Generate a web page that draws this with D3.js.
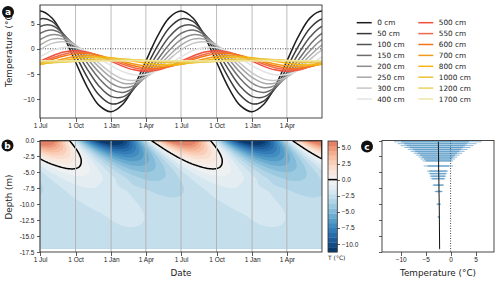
<!DOCTYPE html>
<html lang="en">
<head>
<meta charset="utf-8">
<title>Ground temperature with depth</title>
<script src="https://cdn.jsdelivr.net/npm/d3@7"></script>
<style>
  body { margin: 0; background: #fff; }
  svg { font-family: "DejaVu Sans", sans-serif; }
  .axis path, .axis line { stroke: #333; stroke-width: 0.8; shape-rendering: crispEdges; }
  .axis text { font-size: 6.5px; fill: #222; }
  .lab { font-size: 8.8px; fill: #222; }
</style>
</head>
<body>
<script>

// depths of the temperature series (cm) and their colours
var depthsCm = [0, 50, 100, 150, 200, 250, 300, 400, 500, 550, 600, 700, 800, 1000, 1200, 1700];
var seriesColors = ["#1c1c1c", "#383838", "#535353", "#6d6d6d", "#8c8c8c", "#a8a8a8", "#c6c6c6", "#e3e3e3",
                    "#f0503c", "#f26848", "#f3751a", "#f29a1c", "#f4b50c", "#e9c235", "#ecd35c", "#efe6a6"];

// temperature (°C) on the 1st of each month, Jul .. Jun, one row per depth (same cycle every year)
var monthTemps = [
  [7.50, 6.11, 2.33, -2.63, -7.70, -11.24, -12.50, -10.97, -7.55, -2.46, 2.48, 6.20],
  [5.93, 5.45, 2.75, -1.25, -5.72, -9.20, -10.94, -10.34, -7.90, -3.80, 0.53, 4.17],
  [4.44, 4.63, 2.84, -0.30, -4.14, -7.42, -9.45, -9.55, -7.93, -4.72, -1.01, 2.42],
  [3.05, 3.73, 2.69, 0.31, -2.90, -5.90, -8.06, -8.66, -7.72, -5.30, -2.20, 0.92],
  [1.81, 2.81, 2.35, 0.63, -1.99, -4.66, -6.81, -7.74, -7.33, -5.59, -3.06, -0.30],
  [0.72, 1.92, 1.90, 0.73, -1.34, -3.65, -5.70, -6.85, -6.83, -5.66, -3.67, -1.28],
  [-0.21, 1.08, 1.38, 0.67, -0.93, -2.88, -4.77, -6.02, -6.29, -5.58, -4.06, -2.06],
  [-1.61, -0.36, 0.31, 0.23, -0.58, -1.86, -3.34, -4.57, -5.18, -5.12, -4.35, -3.04],
  [-2.46, -1.42, -0.65, -0.38, -0.66, -1.40, -2.45, -3.49, -4.18, -4.48, -4.22, -3.47],
  [-2.73, -1.82, -1.07, -0.71, -0.81, -1.33, -2.17, -3.08, -3.76, -4.14, -4.07, -3.54],
  [-2.91, -2.12, -1.42, -1.01, -0.96, -1.31, -1.97, -2.75, -3.39, -3.83, -3.88, -3.54],
  [-3.08, -2.55, -1.98, -1.55, -1.34, -1.52, -1.95, -2.51, -3.00, -3.38, -3.50, -3.32],
  [-3.06, -2.74, -2.33, -1.95, -1.69, -1.62, -1.77, -2.10, -2.47, -2.86, -3.12, -3.20],
  [-2.82, -2.77, -2.61, -2.41, -2.19, -2.04, -1.98, -2.04, -2.18, -2.39, -2.60, -2.76],
  [-2.57, -2.62, -2.60, -2.53, -2.43, -2.32, -2.22, -2.18, -2.20, -2.26, -2.37, -2.48],
  [-2.37, -2.39, -2.42, -2.44, -2.44, -2.44, -2.43, -2.41, -2.38, -2.36, -2.36, -2.36]
];

var tickDates = ["2001-07-01", "2001-10-01", "2002-01-01", "2002-04-01",
                 "2002-07-01", "2002-10-01", "2003-01-01", "2003-04-01"].map(function(s) { return new Date(s + "T00:00:00Z"); });
var tempTicks = [5, 0, -5, -10];
var depthTicks = [0, -2.5, -5, -7.5, -10, -12.5, -15, -17.5];
var cbarTicks = [5, 2.5, 0, -2.5, -5, -7.5, -10];
var profTicks = [-10, -5, 0, 5];

// panel c: range of temperature at each sensor depth (m)
var profDepth = [0.2, 0.5, 0.8, 1.1, 1.4, 1.7, 2.0, 2.3, 2.6, 2.9, 3.2, 4.0, 4.8, 5.2, 5.6, 6.0, 7.0, 8.0, 10.0, 12.0, 17.0];
var profMin  = [-11.3, -10.6, -10.0, -9.3, -8.6, -8.0, -7.4, -6.9, -6.4, -6.0, -5.6, -5.4, -4.7, -4.4, -4.2, -4.0, -3.6, -3.2, -2.85, -2.6, -2.3];
var profMax  = [6.2, 5.2, 4.6, 4.0, 3.4, 2.8, 2.3, 1.8, 1.3, 0.9, 0.5, 0.5, -0.5, -0.7, -0.9, -1.1, -1.3, -1.6, -1.95, -2.15, -2.1];
var profLo   = [-9.9, -9.3, -8.8, -8.2, -7.6, -7.1, -6.6, -6.1, -5.7, -5.3, -5.0, -4.6, -4.3, -4.1, -3.9, -3.7, -3.4, -3.0, -2.7, -2.55, -2.25];
var profHi   = [3.7, 3.3, 2.9, 2.5, 2.1, 1.7, 1.3, 0.9, 0.6, 0.3, 0.0, -0.3, -0.8, -1.0, -1.1, -1.3, -1.5, -1.8, -2.05, -2.2, -2.15];
var profMean = [-2.45, -2.45, -2.44, -2.44, -2.43, -2.43, -2.42, -2.42, -2.41, -2.41, -2.4, -2.4, -2.39, -2.38, -2.37, -2.36, -2.34, -2.32, -2.28, -2.25, -2.2];

var svg = d3.select("body").append("svg").attr("width", 500).attr("height", 284);

var t0 = new Date(Date.UTC(2001, 6, 1)), t1 = new Date(Date.UTC(2003, 6, 1));
var depthsM = depthsCm.map(function(d) { return d / 100; });
var monthDay = d3.range(12).map(function(k) { return (Date.UTC(2001, 6 + k, 1) - Date.UTC(2001, 6, 1)) / 864e5; });

// ---------- panel a ----------
var xA = d3.scaleUtc().domain([t0, t1]).range([40, 322]);
var yA = d3.scaleLinear().domain([-13.75, 8.7]).range([118, 5]);

svg.append("clipPath").attr("id", "clipA").append("rect")
   .attr("x", 40).attr("y", 5).attr("width", 282).attr("height", 113);

svg.append("g").selectAll("line").data(tickDates).join("line")
   .attr("x1", function(d) { return xA(d); }).attr("x2", function(d) { return xA(d); })
   .attr("y1", 5).attr("y2", 118).attr("stroke", "#bdbdbd").attr("stroke-width", 1);

svg.append("line").attr("x1", 40).attr("x2", 322).attr("y1", yA(0)).attr("y2", yA(0))
   .attr("stroke", "#333").attr("stroke-width", 0.9).attr("stroke-dasharray", "1,1.5");

var lineA = d3.line()
  .x(function(d) { return xA(d.date); })
  .y(function(d) { return yA(d.v); })
  .curve(d3.curveCatmullRom.alpha(0.5));

var gA = svg.append("g").attr("clip-path", "url(#clipA)");
monthTemps.forEach(function(row, s) {
  var pts = [];
  for (var c = -1; c <= 2; c++) {
    for (var k = 0; k < 12; k++) {
      pts.push({ date: new Date(Date.UTC(2001 + c, 6 + k, 1)), v: row[k] });
    }
  }
  gA.append("path").datum(pts).attr("d", lineA)
    .attr("fill", "none").attr("stroke", seriesColors[s]).attr("stroke-width", 1.5);
});

svg.append("g").attr("class", "axis").attr("transform", "translate(0,118)")
   .call(d3.axisBottom(xA).tickValues(tickDates).tickFormat(d3.utcFormat("%-d %b")).tickSize(3.5).tickPadding(2))
   .select(".domain").remove();
svg.append("g").attr("class", "axis").attr("transform", "translate(40,0)")
   .call(d3.axisLeft(yA).tickValues(tempTicks).tickSize(3.5).tickPadding(2))
   .select(".domain").remove();
svg.append("rect").attr("x", 40).attr("y", 5).attr("width", 282).attr("height", 113)
   .attr("fill", "none").attr("stroke", "#333").attr("stroke-width", 0.9);

svg.append("text").attr("class", "lab").attr("transform", "translate(9,49) rotate(-90)")
   .attr("text-anchor", "middle").attr("dy", "0.35em").text("Temperature (°C)");

// legend
var leg = svg.append("g");
depthsCm.forEach(function(d, i) {
  var col = i < 8 ? 0 : 1, row = i % 8;
  var lx = col ? 418.3 : 356.7, ly = 22.7 + row * 10.9;
  leg.append("line").attr("x1", lx).attr("x2", lx + 15).attr("y1", ly).attr("y2", ly)
     .attr("stroke", seriesColors[i]).attr("stroke-width", 1.5);
  leg.append("text").attr("x", lx + 20.5).attr("y", ly).attr("dy", "0.35em")
     .attr("font-size", "7.3px").attr("fill", "#222").text(d + " cm");
});

// ---------- panel b ----------
var xB = xA.copy();
var yB = d3.scaleLinear().domain([0, -17.5]).range([140.5, 252]);
var step = 0.75;
var levels = d3.range(-11.25, 6.0001, step);
function colorOf(v) { return d3.interpolateRdBu(0.5 - v / 22.5); }

// periodic cubic through the monthly values
function cycleAt(row, day) {
  var n = 12, P = 365;
  var d = ((day % P) + P) % P;
  var k = d3.bisectRight(monthDay, d) - 1;
  function tAt(i) { return monthDay[((i % n) + n) % n] + Math.floor(i / n) * P; }
  function vAt(i) { return row[((i % n) + n) % n]; }
  var ta = tAt(k - 1), tb = tAt(k), tc = tAt(k + 1), td = tAt(k + 2);
  var pa = vAt(k - 1), pb = vAt(k), pc = vAt(k + 1), pd = vAt(k + 2);
  var h = tc - tb, s = (d - tb) / h;
  var m1 = (pc - pa) / (tc - ta), m2 = (pd - pb) / (td - tb);
  return (2*s*s*s - 3*s*s + 1) * pb + (s*s*s - 2*s*s + s) * h * m1 + (-2*s*s*s + 3*s*s) * pc + (s*s*s - s*s) * h * m2;
}
function profileAt(vals, z) {
  var n = depthsM.length;
  var j = Math.max(0, Math.min(d3.bisectRight(depthsM, z) - 1, n - 2));
  var za = depthsM[j], zb = depthsM[j + 1], h = zb - za, s = (z - za) / h;
  var m1 = j > 0 ? (vals[j + 1] - vals[j - 1]) / (zb - depthsM[j - 1]) : (vals[1] - vals[0]) / h;
  var m2 = j + 2 < n ? (vals[j + 2] - vals[j]) / (depthsM[j + 2] - za) : (vals[j + 1] - vals[j]) / h;
  return (2*s*s*s - 3*s*s + 1) * vals[j] + (s*s*s - 2*s*s + s) * h * m1 + (-2*s*s*s + 3*s*s) * vals[j + 1] + (s*s*s - s*s) * h * m2;
}

var nx = 282, ny = 109, zMax = 17, nDays = 730;
var grid = new Float64Array(nx * ny);
for (var i = 0; i < nx; i++) {
  var day = (i + 0.5) / nx * nDays;
  var col = monthTemps.map(function(row) { return cycleAt(row, day); });
  for (var j = 0; j < ny; j++) {
    grid[j * nx + i] = profileAt(col, (j + 0.5) / ny * zMax);
  }
}

var bx0 = xB.range()[0], by0 = yB(0);
var kx = (xB.range()[1] - bx0) / nx, ky = (yB(-zMax) - by0) / ny;
var pathB = d3.geoPath(d3.geoTransform({ point: function(x, y) { this.stream.point(bx0 + x * kx, by0 + y * ky); } }));

svg.append("clipPath").attr("id", "clipB").append("rect")
   .attr("x", 40).attr("y", 140.5).attr("width", 282).attr("height", 111.5);

var gB = svg.append("g").attr("clip-path", "url(#clipB)");
gB.append("rect").attr("x", bx0).attr("y", by0).attr("width", nx * kx).attr("height", ny * ky)
  .attr("fill", colorOf(levels[0] + step / 2));
var bands = d3.contours().size([nx, ny]).thresholds(levels.slice(1, levels.length - 1))(grid);
gB.selectAll("path.band").data(bands).join("path").attr("class", "band")
  .attr("d", pathB).attr("fill", function(d) { return colorOf(d.value + step / 2); });
var zero = d3.contours().size([nx, ny]).thresholds([0])(grid);
gB.selectAll("path.zero").data(zero).join("path").attr("class", "zero")
  .attr("d", pathB).attr("fill", "none").attr("stroke", "#000").attr("stroke-width", 1.5);

svg.append("g").selectAll("line").data(tickDates).join("line")
   .attr("x1", function(d) { return xB(d); }).attr("x2", function(d) { return xB(d); })
   .attr("y1", 140.5).attr("y2", 252).attr("stroke", "#b4b4b4").attr("stroke-width", 1);

svg.append("g").attr("class", "axis").attr("transform", "translate(0,252)")
   .call(d3.axisBottom(xB).tickValues(tickDates).tickFormat(d3.utcFormat("%-d %b")).tickSize(3.5).tickPadding(2))
   .select(".domain").remove();
svg.append("g").attr("class", "axis").attr("transform", "translate(40,0)")
   .call(d3.axisLeft(yB).tickValues(depthTicks).tickFormat(function(d) { return d.toFixed(1); }).tickSize(3.5).tickPadding(2))
   .select(".domain").remove();
svg.append("rect").attr("x", 40).attr("y", 140.5).attr("width", 282).attr("height", 111.5)
   .attr("fill", "none").attr("stroke", "#333").attr("stroke-width", 0.9);

svg.append("text").attr("class", "lab").attr("transform", "translate(9,197) rotate(-90)")
   .attr("text-anchor", "middle").attr("dy", "0.35em").text("Depth (m)");
svg.append("text").attr("class", "lab").attr("x", 181).attr("y", 276).attr("text-anchor", "middle").text("Date");

// colour bar
var yC = d3.scaleLinear().domain([-11.25, 6]).range([252, 141]);
var cb = svg.append("g");
cb.selectAll("rect").data(levels.slice(0, levels.length - 1)).join("rect")
  .attr("x", 328).attr("width", 9.3)
  .attr("y", function(d) { return yC(d + step); })
  .attr("height", function(d) { return yC(d) - yC(d + step) + 0.3; })
  .attr("fill", function(d) { return colorOf(d + step / 2); });
cb.append("line").attr("x1", 328).attr("x2", 337.3).attr("y1", yC(0)).attr("y2", yC(0))
  .attr("stroke", "#000").attr("stroke-width", 1.5);
cb.append("rect").attr("x", 328).attr("y", 141).attr("width", 9.3).attr("height", 111)
  .attr("fill", "none").attr("stroke", "#333").attr("stroke-width", 0.8);
svg.append("g").attr("class", "axis").attr("transform", "translate(337.3,0)")
   .call(d3.axisRight(yC).tickValues(cbarTicks).tickFormat(d3.format(".1f")).tickSize(3).tickPadding(1.5))
   .select(".domain").remove();
svg.append("text").attr("x", 328).attr("y", 260).attr("font-size", "6px").attr("fill", "#222").text("T (°C)");

// ---------- panel c ----------
var xP = d3.scaleLinear().domain([-13.75, 8.7]).range([382, 494]);
var gP = svg.append("g");
gP.append("line").attr("x1", xP(0)).attr("x2", xP(0)).attr("y1", 140.5).attr("y2", 252)
  .attr("stroke", "#333").attr("stroke-width", 0.9).attr("stroke-dasharray", "1,1.5");
profDepth.forEach(function(z, i) {
  var y = yB(-z);
  gP.append("line").attr("x1", xP(profMin[i])).attr("x2", xP(profMax[i])).attr("y1", y).attr("y2", y)
    .attr("stroke", "#1f77b4").attr("stroke-width", 0.6).attr("stroke-opacity", 0.85);
  gP.append("rect").attr("x", xP(profLo[i])).attr("y", y - 0.9)
    .attr("width", xP(profHi[i]) - xP(profLo[i])).attr("height", 1.8)
    .attr("fill", "#1f77b4").attr("fill-opacity", 0.4);
});
gP.append("path").datum(profDepth.map(function(z, i) { return [xP(profMean[i]), yB(-z)]; }))
  .attr("d", d3.line()).attr("fill", "none").attr("stroke", "#111").attr("stroke-width", 1);

svg.append("g").attr("class", "axis").attr("transform", "translate(0,252)")
   .call(d3.axisBottom(xP).tickValues(profTicks).tickSize(3.5).tickPadding(2))
   .select(".domain").remove();
svg.append("g").attr("class", "axis").attr("transform", "translate(382,0)")
   .call(d3.axisLeft(yB).tickValues(depthTicks).tickFormat("").tickSize(3.5))
   .select(".domain").remove();
svg.append("rect").attr("x", 382).attr("y", 140.5).attr("width", 112).attr("height", 111.5)
   .attr("fill", "none").attr("stroke", "#333").attr("stroke-width", 0.9);
svg.append("text").attr("class", "lab").attr("x", 438).attr("y", 276).attr("text-anchor", "middle").text("Temperature (°C)");

// panel letters
[["a", 8, 12], ["b", 7.5, 145.5], ["c", 367, 146.5]].forEach(function(p) {
  svg.append("circle").attr("cx", p[1]).attr("cy", p[2]).attr("r", 6).attr("fill", "#111");
  svg.append("text").attr("x", p[1]).attr("y", p[2]).attr("dy", "0.35em").attr("text-anchor", "middle")
     .attr("font-size", "9px").attr("font-weight", "bold").attr("fill", "#fff").text(p[0]);
});
</script>
</body>
</html>
